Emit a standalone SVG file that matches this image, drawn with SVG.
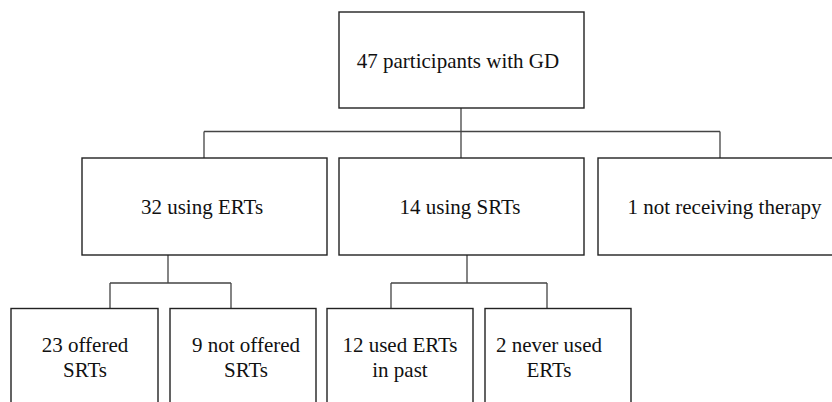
<svg xmlns="http://www.w3.org/2000/svg" width="832" height="402" viewBox="0 0 832 402">
<style>
.box{fill:#fff;stroke:#222;stroke-width:1.4}
.lbl{font-family:"Liberation Serif","Times New Roman",serif;font-size:21px;fill:#111;text-anchor:middle}
.conn{fill:none;stroke:#444;stroke-width:1.3}
</style>
<rect width="832" height="402" fill="#fff"/>
<g id="connectors">
<path class="conn" d="M461 108V158M204 131.5H720M204 131.5V158M720 131.5V158"/>
<path class="conn" d="M168 255V283M110 283H231M110 283V309M231 283V309"/>
<path class="conn" d="M467 255V283M391 283H547M391 283V308M547 283V308"/>
</g>
<g id="n_root"><rect class="box" x="339" y="12" width="245" height="96"/><text class="lbl" x="458" y="68">47 participants with GD</text></g>
<g id="n_ert"><rect class="box" x="82" y="158" width="245" height="97"/><text class="lbl" x="202" y="214">32 using ERTs</text></g>
<g id="n_srt"><rect class="box" x="339" y="158" width="245" height="97"/><text class="lbl" x="460" y="214">14 using SRTs</text></g>
<g id="n_none"><rect class="box" x="598" y="158" width="245" height="97"/><text class="lbl" x="724.5" y="214">1 not receiving therapy</text></g>
<g id="n_offered"><rect class="box" x="11" y="308.5" width="147" height="110"/><text class="lbl" x="85" y="352">23 offered</text><text class="lbl" x="85" y="377">SRTs</text></g>
<g id="n_notoffered"><rect class="box" x="170" y="308.5" width="146" height="110"/><text class="lbl" x="246" y="352">9 not offered</text><text class="lbl" x="246" y="377">SRTs</text></g>
<g id="n_usedpast"><rect class="box" x="327" y="308.5" width="146" height="110"/><text class="lbl" x="400" y="352">12 used ERTs</text><text class="lbl" x="400" y="377">in past</text></g>
<g id="n_neverused"><rect class="box" x="485" y="308.5" width="146" height="110"/><text class="lbl" x="549" y="352">2 never used</text><text class="lbl" x="549" y="377">ERTs</text></g>
</svg>
